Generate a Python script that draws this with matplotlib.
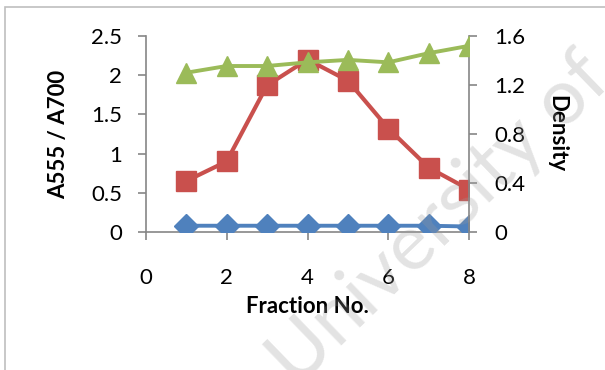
import numpy as np
import matplotlib
matplotlib.use("Agg")
from matplotlib import pyplot as plt
from matplotlib.patches import Rectangle

# --- data
fraction = [1, 2, 3, 4, 5, 6, 7, 8]
ratio_blue = [0.08, 0.08, 0.08, 0.08, 0.08, 0.08, 0.08, 0.07]
ratio_red = [0.65, 0.90, 1.87, 2.20, 1.93, 1.32, 0.82, 0.54]
density = [1.30, 1.355, 1.355, 1.385, 1.405, 1.385, 1.46, 1.52]

plt.rcParams['font.family'] = ['Lato', 'DejaVu Sans']
W, H = 605, 370
fig = plt.figure(figsize=(W / 100, H / 100), dpi=100)

# chart area border (only top and left visible in the crop)
fig.patches.append(Rectangle((5 / W, -0.1), 1.2, 1 - 7 / H + 0.1, transform=fig.transFigure,
                             fill=False, edgecolor='#BFBFBF', linewidth=1.2))

ax = fig.add_axes([145.7 / W, 1 - 232 / H, (469.3 - 145.7) / W, (232 - 36) / H])
ax2 = ax.twinx()

gray = '#868686'
ax.plot(fraction, ratio_blue, color='#4F81BD', marker='D', markersize=12, linewidth=2.8, zorder=3)
ax.plot(fraction, ratio_red, color='#C9504D', marker='s', markersize=14, linewidth=3.0, zorder=4)
ax2.plot(fraction, density, color='#9BBB59', marker='^', markersize=14, linewidth=2.8, zorder=5)

ax.set_xlim(0, 8)
ax.set_ylim(0, 2.5)
ax2.set_ylim(0, 1.6)
ax.set_xticks([0, 2, 4, 6, 8])
ax.set_yticks([0, 0.5, 1, 1.5, 2, 2.5])
ax.set_yticklabels(['0', '0.5', '1', '1.5', '2', '2.5'])
ax2.set_yticks([0, 0.4, 0.8, 1.2, 1.6])
ax2.set_yticklabels(['0', '0.4', '0.8', '1.2', '1.6'])

for a in (ax, ax2):
    a.set_facecolor('none')
    a.spines['top'].set_visible(False)
    for s in ('left', 'right', 'bottom'):
        a.spines[s].set_color(gray)
        a.spines[s].set_linewidth(1.2)
    a.tick_params(colors=gray, labelcolor='black', labelsize=16, length=6, width=1.2)
ax.spines['right'].set_visible(False)
ax2.spines['left'].set_visible(False)
ax2.spines['bottom'].set_visible(False)
ax.tick_params(axis='x', pad=20)
ax.tick_params(axis='y', pad=11)
ax2.tick_params(axis='y', pad=12)

ax.set_xlabel('Fraction No.', fontsize=16, fontweight='bold', labelpad=6)
ax.set_ylabel('A555 / A700', fontsize=16, fontweight='bold', labelpad=16)
ax2.set_ylabel('Density', fontsize=16, fontweight='bold', rotation=270, labelpad=30)
ax.set_zorder(ax2.get_zorder() - 1)

# faint watermark over the chart
fig.text(440 / W, 1 - 220 / H, 'University of', fontsize=56,
         color='#9a9a9a', alpha=0.28, rotation=44, ha='center', va='center',
         rotation_mode='anchor', zorder=20)

fig.savefig('out.png', dpi=100)
